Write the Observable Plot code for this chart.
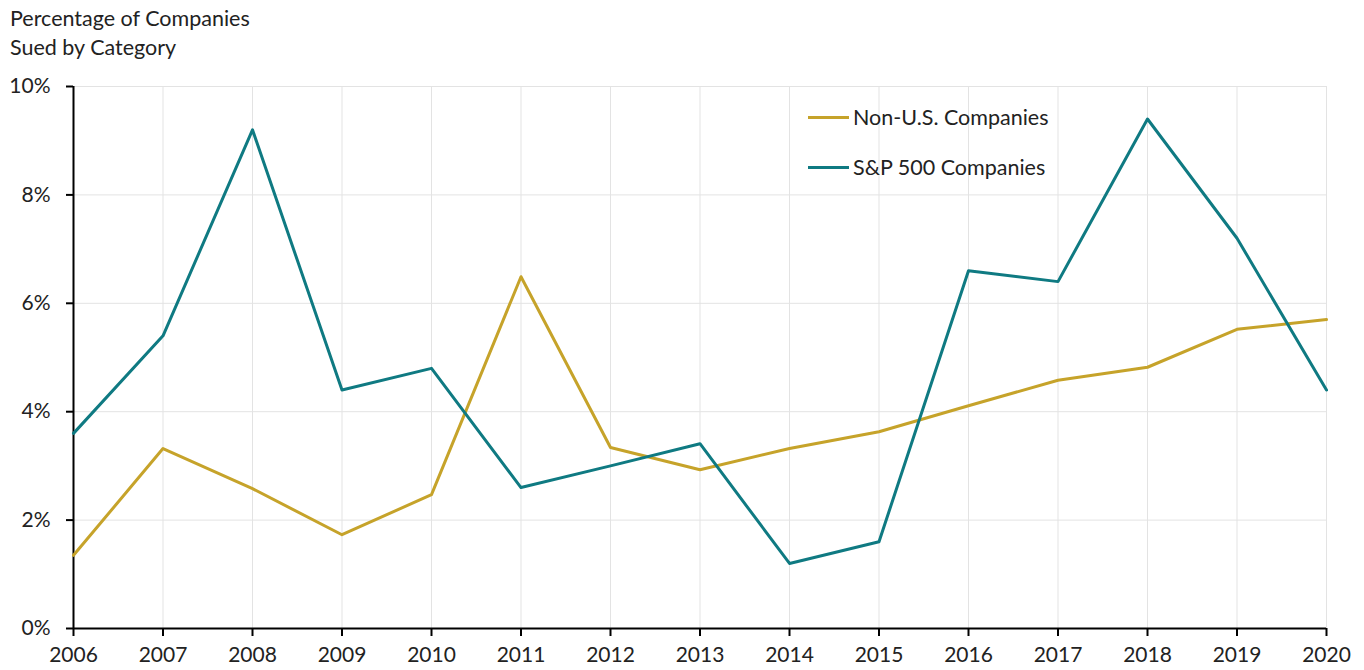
<!DOCTYPE html>
<html>
<head>
<meta charset="utf-8">
<script src="https://cdn.jsdelivr.net/npm/d3@7"></script>
<script src="https://cdn.jsdelivr.net/npm/@observablehq/plot@0.6"></script>
<style>
  body { margin: 0; background: #fff; font-family: Lato, "Open Sans", sans-serif; color: #222; }
  #wrap { position: relative; width: 1364px; height: 670px; }
  #title { position: absolute; left: 10px; top: 4px; font-size: 21.5px; line-height: 29px; color: #222; }
  #chart { position: absolute; left: 0; top: 70px; }
  .legend { position: absolute; left: 808px; font-size: 21.5px; color: #222; display: flex; align-items: center; }
  .legend span.sw { display: inline-block; width: 41px; height: 3px; margin-right: 4px; }
</style>
</head>
<body>
<div id="wrap">
  <div id="title">Percentage of Companies<br>Sued by Category</div>
  <div id="chart"></div>
  <div class="legend" style="top:104px"><span class="sw" style="background:#C6A32A"></span>Non-U.S. Companies</div>
  <div class="legend" style="top:154px"><span class="sw" style="background:#0F7A82"></span>S&amp;P 500 Companies</div>
</div>
<script>
const years = [2006, 2007, 2008, 2009, 2010, 2011, 2012, 2013, 2014, 2015, 2016, 2017, 2018, 2019, 2020];
const nonUS = [1.35, 3.32, 2.58, 1.73, 2.47, 6.49, 3.34, 2.93, 3.32, 3.63, 4.11, 4.58, 4.82, 5.52, 5.70];
const sp500 = [3.6, 5.4, 9.2, 4.4, 4.8, 2.6, 3.0, 3.41, 1.2, 1.6, 6.6, 6.4, 9.4, 7.2, 4.4];
const yTicks = [0, 2, 4, 6, 8, 10];

const seriesNames = ["Non-U.S. Companies", "S&P 500 Companies"];
const colors = ["#C6A32A", "#0F7A82"];
const data = [
  ...years.map((y, i) => ({year: y, value: nonUS[i], series: seriesNames[0]})),
  ...years.map((y, i) => ({year: y, value: sp500[i], series: seriesNames[1]}))
];

const chart = Plot.plot({
  width: 1364,
  height: 600,
  marginLeft: 73,
  marginRight: 38,
  marginTop: 16,
  marginBottom: 42,
  style: {fontFamily: "Lato, 'Open Sans', sans-serif", fontSize: "21px", color: "#222", background: "#fff"},
  x: {domain: [2006, 2020], label: null},
  y: {domain: [0, 10], label: null},
  color: {domain: seriesNames, range: colors},
  marks: [
    Plot.gridX(years, {stroke: "#e3e3e3", strokeOpacity: 1, strokeWidth: 1}),
    Plot.gridY(yTicks, {stroke: "#e3e3e3", strokeOpacity: 1, strokeWidth: 1}),
    Plot.axisX({ticks: years, tickFormat: d => String(d), tickSize: 8, tickPadding: 11, stroke: "#000", strokeWidth: 2, fontSize: 21, label: null}),
    Plot.axisY({ticks: yTicks, tickFormat: d => d + "%", tickSize: 7, tickPadding: 16, stroke: "#000", strokeWidth: 2, fontSize: 21, label: null}),
    Plot.ruleY([0], {stroke: "#000", strokeWidth: 2}),
    Plot.ruleX([2006], {stroke: "#000", strokeWidth: 2}),
    Plot.line(data, {x: "year", y: "value", z: "series", stroke: "series", strokeWidth: 3})
  ]
});
document.getElementById("chart").appendChild(chart);
</script>
</body>
</html>
